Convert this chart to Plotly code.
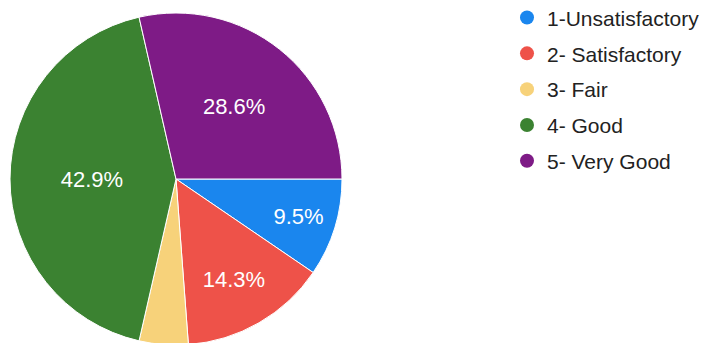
import plotly.graph_objects as go

# ratings (counts: 2/3/1/9/6 of 21)
labels = ["1-Unsatisfactory", "2- Satisfactory", "3- Fair", "4- Good", "5- Very Good"]
counts = [2, 3, 1, 9, 6]
colors = ["#1a86ee", "#ee5249", "#f7d27a", "#3b8231", "#7e1b86"]
# small slice has no label in the original
show_text = [True, True, False, True, True]

fig = go.Figure()

fig.add_trace(go.Pie(
    labels=labels,
    values=counts,
    sort=False,
    direction="clockwise",
    rotation=90,
    marker=dict(colors=colors, line=dict(color="white", width=1)),
    texttemplate=["%{percent:.1%}" if s else "" for s in show_text],
    textposition=["inside" if s else "none" for s in show_text],
    insidetextorientation="horizontal",
    textfont=dict(color="white", size=22, family="Liberation Sans, Arial"),
    showlegend=False,
    hoverinfo="label+percent",
    domain=dict(x=[2 / 710, 334 / 710], y=[0, 1]),
))

# legend with round markers, one entry per rating
for i, lab in enumerate(labels):
    fig.add_trace(go.Scatter(
        x=[None], y=[None],
        mode="markers",
        name=lab,
        legendgroup=lab,
        marker=dict(color=colors[i], size=14, symbol="circle"),
    ))

# page body adds 8px, so the layout is nudged up/left to compensate
fig.update_layout(
    width=710,
    height=343,
    margin=dict(l=0, r=0, t=5, b=6, autoexpand=False),
    paper_bgcolor="white",
    plot_bgcolor="white",
    xaxis=dict(visible=False),
    yaxis=dict(visible=False),
    legend=dict(
        x=499 / 710,
        y=1.047,
        xanchor="left",
        yanchor="top",
        tracegroupgap=5.5,
        maxheight=400,
        font=dict(size=21, color="#222222", family="Liberation Sans, Arial"),
    ),
)

fig.write_html("out.html")
